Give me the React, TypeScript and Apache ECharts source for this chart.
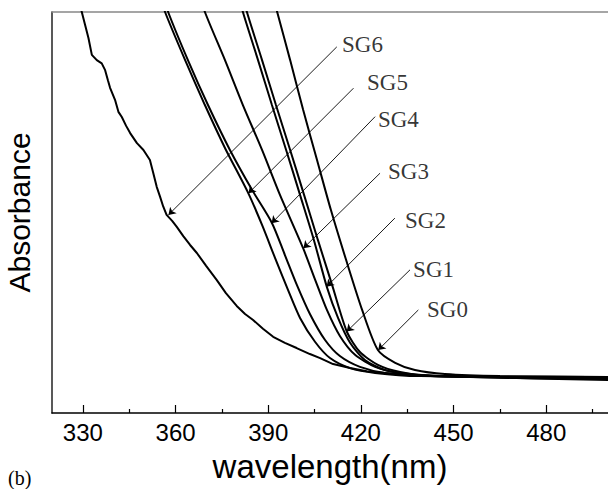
import React, { useEffect, useRef } from "react";
import * as echarts from "echarts";

const majorTicks = [330, 360, 390, 420, 450, 480];
const minorTicks = [345, 375, 405, 435, 465, 495];

const sg6 = [
  [328.6, 103.0], [329.6, 100.1], [330.7, 96.8], [331.8, 93.5], [332.9, 89.3], [334.5, 88.0],
  [336.1, 87.2], [337.2, 85.5], [338.1, 83.0], [338.8, 81.1], [340.4, 78.1], [341.5, 75.1],
  [342.6, 73.8], [344.0, 71.6], [345.3, 69.8], [347.5, 67.3], [349.6, 65.6], [351.7, 63.1],
  [352.7, 60.1], [353.9, 56.4], [355.0, 53.9], [356.0, 51.5], [357.1, 49.4], [358.9, 47.9],
  [360.4, 46.4], [362.5, 44.1], [364.7, 41.9], [366.9, 39.9], [369.9, 36.7], [373.3, 33.2],
  [376.3, 29.9], [379.8, 26.7], [382.5, 24.7], [385.1, 23.2], [388.3, 21.0], [391.6, 19.0],
  [395.4, 17.5], [399.2, 16.2], [403.5, 14.7], [406.8, 13.7], [411.0, 12.2], [416.5, 11.2],
  [421.9, 10.4], [427.8, 10.0], [435.9, 9.5], [445.6, 9.2], [458.6, 9.0], [474.8, 9.0], [500, 8.7]
];
const sg5 = [
  [355.6, 103.0], [356.6, 100.0], [363.1, 88.0], [369.5, 76.8], [376.0, 66.1], [383.5, 54.9],
  [388.0, 46.9], [392.2, 38.7], [396.4, 30.7], [400.3, 23.7], [405.2, 17.7], [410.0, 13.7],
  [416.5, 11.2], [424.6, 10.0], [439.1, 9.2], [500, 9.0]
];
const sg4 = [
  [356.6, 103.0], [357.6, 100.0], [364.0, 88.0], [370.5, 76.8], [377.6, 65.6], [384.8, 55.6],
  [391.2, 47.4], [395.4, 39.4], [399.3, 31.9], [403.5, 24.7], [408.4, 18.2], [413.2, 14.2],
  [419.7, 11.5], [427.8, 10.0], [442.4, 9.2], [500, 8.7]
];
const sg3 = [
  [368.6, 103.0], [369.5, 100.0], [376.0, 88.0], [381.8, 76.8], [388.0, 65.6], [393.8, 54.4],
  [401.3, 41.1], [405.2, 33.2], [409.0, 25.7], [413.2, 19.2], [418.1, 14.5], [424.6, 11.5],
  [432.7, 10.0], [448.9, 9.2], [500, 8.5]
];
const sg2 = [
  [380.9, 103.0], [381.8, 100.0], [386.7, 88.0], [391.2, 76.8], [395.8, 65.6], [400.3, 54.4],
  [404.8, 43.1], [409.0, 31.4], [412.6, 23.7], [416.5, 17.5], [421.3, 13.2], [427.8, 10.7],
  [437.5, 9.5], [455.3, 9.0], [500, 8.2]
];
const sg1 = [
  [382.2, 103.0], [383.1, 100.0], [388.0, 88.0], [392.5, 76.8], [397.1, 65.6], [401.6, 54.4],
  [406.1, 43.1], [410.7, 31.9], [415.5, 20.2], [419.7, 15.2], [425.5, 12.0], [432.7, 10.2],
  [442.4, 9.2], [500, 8.5]
];
const sg0 = [
  [391.9, 103.0], [392.9, 100.0], [397.1, 88.0], [401.3, 75.6], [405.8, 63.1], [410.3, 50.6],
  [415.2, 38.2], [420.4, 25.7], [425.5, 15.7], [431.1, 12.5], [437.5, 10.7], [447.2, 9.7],
  [465.0, 9.2], [500, 9.0]
];

const curveNames = ["SG0", "SG1", "SG2", "SG3", "SG4", "SG5", "SG6"];
const curves = [sg0, sg1, sg2, sg3, sg4, sg5, sg6];

// label anchor (left-middle of text) in data units
const labelPoints = [
  [441.4, 25.9], [436.9, 35.7], [434.3, 48.1], [428.8, 60.1], [425.5, 73.3], [422.0, 82.5], [413.9, 92.0]
];
// arrow start / end in data units
const arrowFrom = [
  [438.6, 25.7], [435.9, 35.7], [431.0, 48.6], [426.2, 59.8], [424.6, 73.9], [417.6, 81.0], [412.2, 91.3]
];
const arrowTo = [
  [425.6, 15.7], [415.4, 20.3], [408.9, 31.5], [401.4, 41.1], [391.1, 47.3], [383.6, 54.8], [357.7, 49.4]
];

export default function App() {
  const ref = useRef<HTMLDivElement>(null);
  useEffect(() => {
    const chart = echarts.init(ref.current!, null, { renderer: "svg" });
    const gridBox = { left: 52, right: 0, top: 12, bottom: 76, containLabel: false, outerBoundsMode: "none" };
    const series: any[] = curves.map((c, i) => ({
      name: curveNames[i],
      type: "line",
      data: c,
      xAxisIndex: 0,
      yAxisIndex: 0,
      symbol: "none",
      smooth: i === 6 ? false : 0.25,
      clip: true,
      lineStyle: { color: "#000", width: 2 },
      z: 3,
    }));
    series.push({
      type: "lines",
      coordinateSystem: "cartesian2d",
      xAxisIndex: 0,
      yAxisIndex: 0,
      symbol: ["none", "arrow"],
      symbolSize: [0, 7],
      lineStyle: { color: "#000", width: 0.9, opacity: 1 },
      data: arrowFrom.map((f, i) => ({ coords: [f, arrowTo[i]] })),
      z: 4,
    });
    series.push({
      type: "scatter",
      xAxisIndex: 0,
      yAxisIndex: 0,
      symbolSize: 0,
      data: labelPoints.map((p, i) => ({ value: p, name: curveNames[i] })),
      label: {
        show: true,
        position: "right",
        distance: 0,
        formatter: (p: any) => p.name,
        fontFamily: "Liberation Serif",
        fontSize: 23,
        color: "#000",
      },
      z: 5,
    });
    chart.setOption({
      animation: false,
      backgroundColor: "#fff",
      grid: [gridBox, { ...gridBox }],
      xAxis: [
        {
          type: "value",
          gridIndex: 0,
          min: 320,
          max: 500,
          position: "bottom",
          axisLine: { show: true, lineStyle: { color: "#000", width: 1.5 } },
          axisTick: { show: true, inside: true, length: 8, customValues: majorTicks, lineStyle: { color: "#000", width: 1.2 } },
          axisLabel: { show: true, customValues: majorTicks, fontSize: 24, color: "#000", fontFamily: "Liberation Sans", margin: 7 },
          splitLine: { show: false },
          name: "wavelength(nm)",
          nameLocation: "middle",
          nameGap: 37,
          nameTextStyle: { fontSize: 33, color: "#000", fontFamily: "Liberation Sans" },
        },
        {
          type: "value",
          gridIndex: 0,
          min: 320,
          max: 500,
          position: "top",
          axisLine: { show: true, lineStyle: { color: "#888", width: 1.5 } },
          axisTick: { show: false },
          axisLabel: { show: false },
          splitLine: { show: false },
        },
        {
          type: "value",
          gridIndex: 1,
          min: 320,
          max: 500,
          position: "bottom",
          axisLine: { show: false },
          axisTick: { show: true, inside: true, length: 4, customValues: minorTicks, lineStyle: { color: "#000", width: 1.2 } },
          axisLabel: { show: false },
          splitLine: { show: false },
        },
      ],
      yAxis: [
        {
          type: "value",
          gridIndex: 0,
          min: 0,
          max: 100,
          axisLine: { show: true, lineStyle: { color: "#222", width: 1.5 } },
          axisTick: { show: false },
          axisLabel: { show: false },
          splitLine: { show: false },
          name: "Absorbance",
          nameLocation: "middle",
          nameRotate: 90,
          nameGap: 18,
          nameTextStyle: { fontSize: 30, color: "#000", fontFamily: "Liberation Sans" },
        },
        {
          type: "value",
          gridIndex: 1,
          min: 0,
          max: 100,
          show: false,
        },
      ],
      graphic: [
        {
          type: "text",
          left: 8,
          top: 468,
          style: { text: "(b)", fontFamily: "Liberation Serif", fontSize: 20, fill: "#000" },
        },
      ],
      series,
    });
    return () => chart.dispose();
  }, []);
  return <div ref={ref} style={{ position: "fixed", left: 0, top: 0, width: 608, height: 489 }} />;
}
